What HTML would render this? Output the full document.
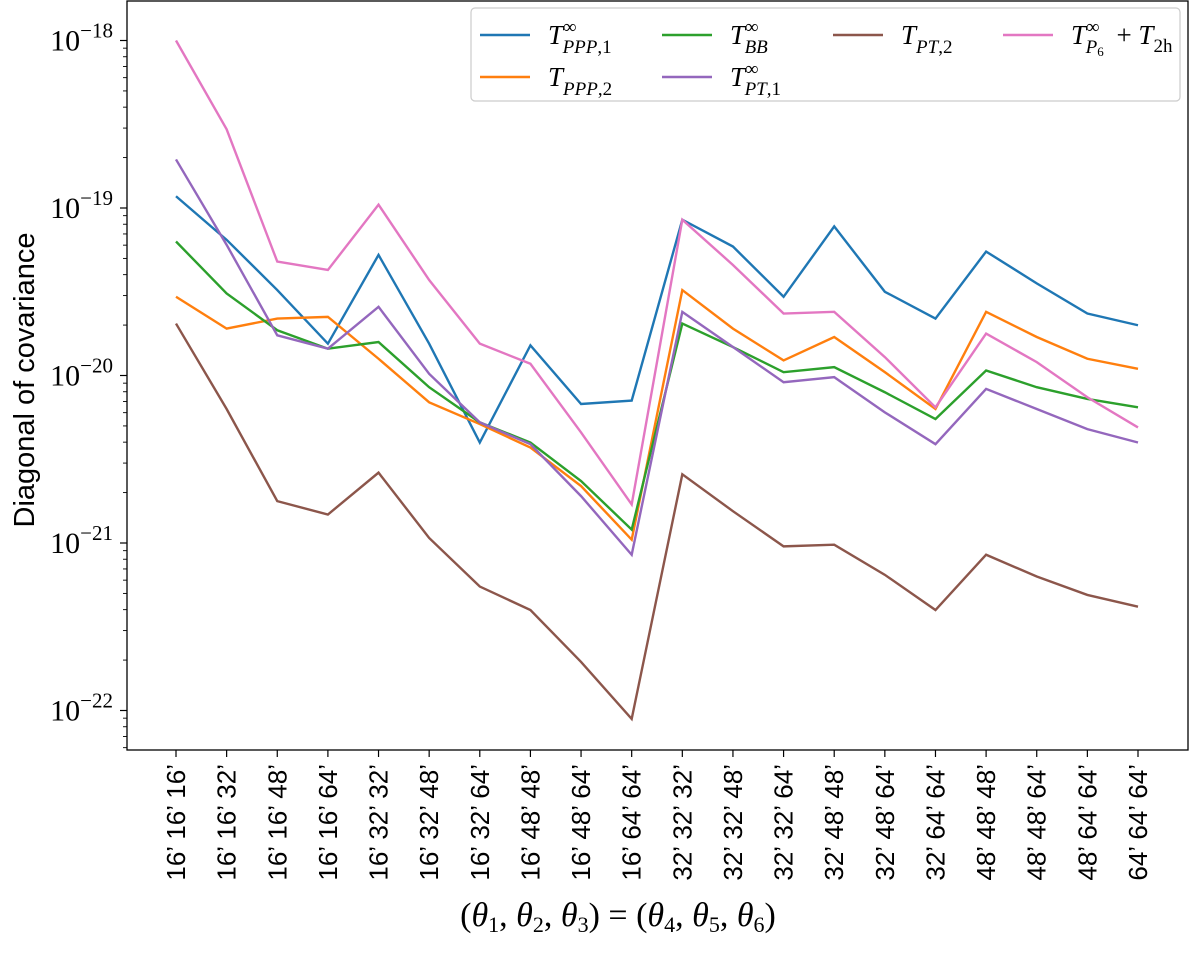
<!DOCTYPE html>
<html><head><meta charset="utf-8"><style>
body{margin:0;background:#fff;}
svg text{font-family:"Liberation Serif",serif;}
</style></head><body>
<svg id="c" width="1200" height="948" xmlns="http://www.w3.org/2000/svg"></svg>
<script>
const categories=["16’ 16’ 16’","16’ 16’ 32’","16’ 16’ 48’","16’ 16’ 64’","16’ 32’ 32’","16’ 32’ 48’","16’ 32’ 64’","16’ 48’ 48’","16’ 48’ 64’","16’ 64’ 64’","32’ 32’ 32’","32’ 32’ 48’","32’ 32’ 64’","32’ 48’ 48’","32’ 48’ 64’","32’ 64’ 64’","48’ 48’ 48’","48’ 48’ 64’","48’ 64’ 64’","64’ 64’ 64’"];
// log10 of diagonal covariance
const logPPP1=[-18.93,-19.19,-19.49,-19.81,-19.28,-19.81,-20.40,-19.82,-20.17,-20.15,-19.07,-19.23,-19.53,-19.11,-19.50,-19.66,-19.26,-19.45,-19.63,-19.70];
const logPPP2=[-19.53,-19.72,-19.66,-19.65,-19.90,-20.16,-20.29,-20.43,-20.66,-20.98,-19.49,-19.72,-19.91,-19.77,-19.98,-20.20,-19.62,-19.77,-19.90,-19.96];
const logBB=[-19.20,-19.51,-19.73,-19.84,-19.80,-20.07,-20.28,-20.40,-20.63,-20.92,-19.69,-19.83,-19.98,-19.95,-20.10,-20.26,-19.97,-20.07,-20.14,-20.19];
const logPT1=[-18.71,-19.22,-19.76,-19.84,-19.59,-19.99,-20.28,-20.41,-20.72,-21.07,-19.62,-19.83,-20.04,-20.01,-20.22,-20.41,-20.08,-20.20,-20.32,-20.40];
const logPT2=[-19.69,-20.20,-20.75,-20.83,-20.58,-20.97,-21.26,-21.40,-21.71,-22.05,-20.59,-20.81,-21.02,-21.01,-21.19,-21.40,-21.07,-21.20,-21.31,-21.38];
const logP6=[-18.00,-18.53,-19.32,-19.37,-18.98,-19.43,-19.81,-19.93,-20.34,-20.77,-19.07,-19.34,-19.63,-19.62,-19.89,-20.19,-19.75,-19.92,-20.13,-20.31];
const yTickExps=[-18,-19,-20,-21,-22];

const NS="http://www.w3.org/2000/svg";
const svg=document.getElementById('c');
function mk(t,a,p){const e=document.createElementNS(NS,t);for(const k in a)e.setAttribute(k,a[k]);(p||svg).appendChild(e);return e;}
const L=127,R=1188,T=1,B=750;
const x0=176,dx=(1138-176)/19;
function X(i){return x0+i*dx;}
function Y(le){return 40.5+(-18-le)*167.5;}

const series=[
 {d:logPPP1,c:"#1f77b4",n:"line-ppp1"},
 {d:logPPP2,c:"#ff7f0e",n:"line-ppp2"},
 {d:logBB,c:"#2ca02c",n:"line-bb"},
 {d:logPT1,c:"#9467bd",n:"line-pt1"},
 {d:logPT2,c:"#8c564b",n:"line-pt2"},
 {d:logP6,c:"#e377c2",n:"line-p6-2h"}];
series.forEach(s=>{
 const p=mk('polyline',{points:s.d.map((v,i)=>X(i)+','+Y(v)).join(' '),fill:'none',stroke:s.c,'stroke-width':2.4});
 
 
});
const frame=mk('rect',{x:L,y:T,width:R-L,height:B-T,fill:'none',stroke:'#000','stroke-width':1.3});



yTickExps.forEach(e=>{
 const y=Y(e);
 mk('line',{x1:L-7,x2:L,y1:y,y2:y,stroke:'#000','stroke-width':1.2});
 const t=mk('text',{x:L-14,y:y+10,'text-anchor':'end','font-size':30});
 
 
 t.innerHTML='10<tspan dy="-13" font-size="21">−'+(-e)+'</tspan>';
});
for(let e=-17;e>=-23;e--){for(let m=2;m<10;m++){const y=Y(e-1+Math.log10(m));if(y>T&&y<B)mk('line',{x1:L-4,x2:L,y1:y,y2:y,stroke:'#000','stroke-width':0.9});}}
categories.forEach((c,i)=>{
 const x=X(i);
 mk('line',{x1:x,x2:x,y1:B,y2:B+7,stroke:'#000','stroke-width':1.2});
 const t=mk('text',{x:0,y:0,transform:`translate(${x+9},${B+14}) rotate(-90)`,'text-anchor':'end','font-size':26,style:'font-family:"Liberation Sans",sans-serif'});
 
 
 t.textContent=c;
});
const yl=mk('text',{transform:'translate(34,380) rotate(-90)','text-anchor':'middle','font-size':29,style:'font-family:"Liberation Sans",sans-serif'});


yl.textContent='Diagonal of covariance';
const xl=mk('text',{x:618,y:926,'text-anchor':'middle','font-size':34});


xl.innerHTML='(<tspan font-style="italic">θ</tspan><tspan font-size="22" dy="6">1</tspan><tspan dy="-6">, </tspan><tspan font-style="italic">θ</tspan><tspan font-size="22" dy="6">2</tspan><tspan dy="-6">, </tspan><tspan font-style="italic">θ</tspan><tspan font-size="22" dy="6">3</tspan><tspan dy="-6">) = (</tspan><tspan font-style="italic">θ</tspan><tspan font-size="22" dy="6">4</tspan><tspan dy="-6">, </tspan><tspan font-style="italic">θ</tspan><tspan font-size="22" dy="6">5</tspan><tspan dy="-6">, </tspan><tspan font-style="italic">θ</tspan><tspan font-size="22" dy="6">6</tspan><tspan dy="-6">)</tspan>';

const lg=mk('g',{});


mk('rect',{x:471,y:8,width:709,height:93,rx:4,fill:'#fff',stroke:'#ccc','stroke-width':1.2},lg);
const items=[
 {c:"#1f77b4",x:480,y:38,h:'<tspan font-style="italic">T</tspan><tspan font-size="19" dy="-11">∞</tspan><tspan font-size="19" dx="-14" dy="20" font-style="italic">PPP</tspan><tspan font-size="19">,1</tspan>'},
 {c:"#ff7f0e",x:480,y:80,h:'<tspan font-style="italic">T</tspan><tspan font-size="19" dy="9" font-style="italic">PPP</tspan><tspan font-size="19">,2</tspan>'},
 {c:"#2ca02c",x:662,y:38,h:'<tspan font-style="italic">T</tspan><tspan font-size="19" dy="-11">∞</tspan><tspan font-size="19" dx="-14" dy="20" font-style="italic">BB</tspan>'},
 {c:"#9467bd",x:662,y:80,h:'<tspan font-style="italic">T</tspan><tspan font-size="19" dy="-11">∞</tspan><tspan font-size="19" dx="-14" dy="20" font-style="italic">PT</tspan><tspan font-size="19">,1</tspan>'},
 {c:"#8c564b",x:833,y:38,h:'<tspan font-style="italic">T</tspan><tspan font-size="19" dy="9" font-style="italic">PT</tspan><tspan font-size="19">,2</tspan>'},
 {c:"#e377c2",x:1003,y:38,h:'<tspan font-style="italic">T</tspan><tspan font-size="19" dy="-11">∞</tspan><tspan font-size="19" dx="-14" dy="20" font-style="italic">P</tspan><tspan font-size="13" dy="3">6</tspan><tspan dy="-12" dx="6"> + </tspan><tspan font-style="italic">T</tspan><tspan font-size="19" dy="8">2h</tspan>'}];
items.forEach(it=>{
 const g=mk('g',{},lg);
 
 
 mk('line',{x1:it.x,x2:it.x+50,y1:it.y-3,y2:it.y-3,stroke:it.c,'stroke-width':2.5},g);
 const t=mk('text',{x:it.x+68,y:it.y+6,'font-size':27},g);
 t.innerHTML=it.h;
});
</script>
</body></html>
